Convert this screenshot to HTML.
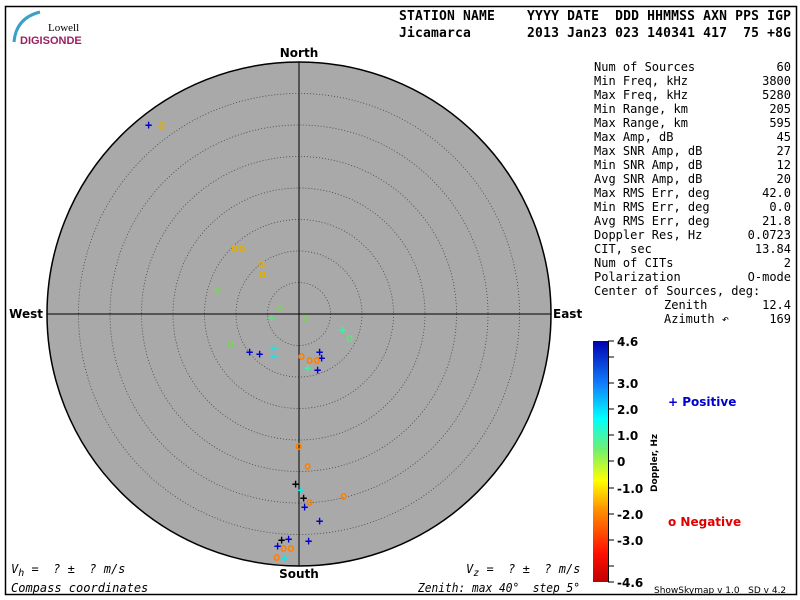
<!DOCTYPE html>
<html><head><meta charset="utf-8"><style>
body{margin:0;background:#fff;width:800px;height:600px;overflow:hidden}
svg{display:block}
text{font-family:"DejaVu Sans Mono","Liberation Mono",monospace;font-size:12px;fill:#000;white-space:pre}
.b{font-family:"DejaVu Sans","Liberation Sans",sans-serif;font-weight:bold;font-size:12px}
.i{font-style:italic}
</style></head><body>
<svg width="800" height="600" viewBox="0 0 800 600" xml:space="preserve">
<defs>
<linearGradient id="cb" x1="0" y1="1" x2="0" y2="0">
<stop offset="0" stop-color="#c00000"/><stop offset="0.12" stop-color="#ff1000"/>
<stop offset="0.3" stop-color="#ff9000"/><stop offset="0.42" stop-color="#ffff00"/>
<stop offset="0.55" stop-color="#70f070"/><stop offset="0.68" stop-color="#00ffff"/>
<stop offset="0.82" stop-color="#1080ff"/><stop offset="1" stop-color="#0000b0"/>
</linearGradient>
</defs>
<rect x="5.5" y="6.5" width="791" height="588" fill="none" stroke="#000" stroke-width="1.5"/>
<path d="M14 42 Q16 18 40 12" fill="none" stroke="#3aa0c8" stroke-width="3"/>
<text x="48" y="31" style="font-family:'Liberation Serif',serif;font-size:11px">Lowell</text>
<text x="20" y="44" style="font-family:'Liberation Sans',sans-serif;font-size:11px;font-weight:bold;fill:#9a2060">DIGISONDE</text>
<text x="399" y="20" style="font-size:13px;font-weight:bold" textLength="392" lengthAdjust="spacing">STATION NAME    YYYY DATE  DDD HHMMSS AXN PPS IGP</text>
<text x="399" y="37" style="font-size:13px;font-weight:bold" textLength="392" lengthAdjust="spacing">Jicamarca       2013 Jan23 023 140341 417  75 +8G</text>
<circle cx="299" cy="314" r="252" fill="#a9a9a9" stroke="#000" stroke-width="1.5"/>
<g fill="none" stroke="#444" stroke-dasharray="1,2" stroke-width="0.8">
<circle cx="299" cy="314" r="31.5"/><circle cx="299" cy="314" r="63"/><circle cx="299" cy="314" r="94.5"/><circle cx="299" cy="314" r="126"/><circle cx="299" cy="314" r="157.5"/><circle cx="299" cy="314" r="189"/><circle cx="299" cy="314" r="220.5"/>
</g>
<line x1="299" y1="62" x2="299" y2="566" stroke="#000"/>
<line x1="47" y1="314" x2="551" y2="314" stroke="#000"/>
<text class="b" x="299" y="57" text-anchor="middle">North</text>
<text class="b" x="299" y="578" text-anchor="middle">South</text>
<text class="b" x="43" y="318" text-anchor="end">West</text>
<text class="b" x="553" y="318">East</text>
<g style="font-family:'DejaVu Sans',sans-serif;font-size:10px;font-weight:bold">
<text x="145" y="129" style="fill:#0000d0">+</text>
<text x="158" y="129" style="fill:#e0b000">o</text>
<text x="231" y="252" style="fill:#e0b000">oo</text>
<text x="258" y="268" style="fill:#e0b000">o</text>
<text x="259" y="278" style="fill:#e0b000">o</text>
<text x="214" y="294" style="fill:#80d060">o</text>
<text x="276" y="312" style="fill:#80d060">o</text>
<text x="268" y="322" style="fill:#60e080">+</text>
<text x="302" y="322" style="fill:#80d060">o</text>
<text x="339" y="334" style="fill:#40f0a0">+</text>
<text x="346" y="342" style="fill:#60e080">o</text>
<text x="227" y="348" style="fill:#80d060">o</text>
<text x="246" y="356" style="fill:#0000d0">+</text>
<text x="256" y="358" style="fill:#0000d0">+</text>
<text x="270" y="352" style="fill:#20e0e0">+</text>
<text x="270" y="360" style="fill:#20e0e0">+</text>
<text x="316" y="356" style="fill:#0000d0">+</text>
<text x="318" y="362" style="fill:#0000d0">+</text>
<text x="298" y="360" style="fill:#ff8000">o</text>
<text x="306" y="364" style="fill:#ff8000">oo</text>
<text x="304" y="372" style="fill:#40f0a0">+</text>
<text x="314" y="374" style="fill:#0000d0">+</text>
<text x="295" y="450" style="fill:#ff8000">o</text>
<text x="304" y="470" style="fill:#ff8000">o</text>
<text x="292" y="488" style="fill:#000">+</text>
<text x="297" y="494" style="fill:#20e0e0">+</text>
<text x="300" y="502" style="fill:#000">+</text>
<text x="306" y="506" style="fill:#ff8000">o</text>
<text x="340" y="500" style="fill:#ff8000">o</text>
<text x="301" y="511" style="fill:#0000d0">+</text>
<text x="316" y="525" style="fill:#0000d0">+</text>
<text x="305" y="545" style="fill:#0000d0">+</text>
<text x="278" y="544" style="fill:#000">+</text>
<text x="285" y="543" style="fill:#0000d0">+</text>
<text x="274" y="550" style="fill:#0000d0">+</text>
<text x="280" y="552" style="fill:#ff8000">oo</text>
<text x="273" y="561" style="fill:#ff8000">o</text>
<text x="281" y="562" style="fill:#20e0e0">+</text>
</g>
<g style="font-size:12px">
<text x="594" y="71">Num of Sources</text><text x="791" y="71" text-anchor="end">60</text>
<text x="594" y="85">Min Freq, kHz</text><text x="791" y="85" text-anchor="end">3800</text>
<text x="594" y="99">Max Freq, kHz</text><text x="791" y="99" text-anchor="end">5280</text>
<text x="594" y="113">Min Range, km</text><text x="791" y="113" text-anchor="end">205</text>
<text x="594" y="127">Max Range, km</text><text x="791" y="127" text-anchor="end">595</text>
<text x="594" y="141">Max Amp, dB</text><text x="791" y="141" text-anchor="end">45</text>
<text x="594" y="155">Max SNR Amp, dB</text><text x="791" y="155" text-anchor="end">27</text>
<text x="594" y="169">Min SNR Amp, dB</text><text x="791" y="169" text-anchor="end">12</text>
<text x="594" y="183">Avg SNR Amp, dB</text><text x="791" y="183" text-anchor="end">20</text>
<text x="594" y="197">Max RMS Err, deg</text><text x="791" y="197" text-anchor="end">42.0</text>
<text x="594" y="211">Min RMS Err, deg</text><text x="791" y="211" text-anchor="end">0.0</text>
<text x="594" y="225">Avg RMS Err, deg</text><text x="791" y="225" text-anchor="end">21.8</text>
<text x="594" y="239">Doppler Res, Hz</text><text x="791" y="239" text-anchor="end">0.0723</text>
<text x="594" y="253">CIT, sec</text><text x="791" y="253" text-anchor="end">13.84</text>
<text x="594" y="267">Num of CITs</text><text x="791" y="267" text-anchor="end">2</text>
<text x="594" y="281">Polarization</text><text x="791" y="281" text-anchor="end">O-mode</text>
<text x="594" y="295">Center of Sources, deg:</text>
<text x="664" y="309">Zenith</text><text x="791" y="309" text-anchor="end">12.4</text>
<text x="664" y="323">Azimuth ↶</text><text x="791" y="323" text-anchor="end">169</text>
</g>
<rect x="593" y="341" width="15" height="241" fill="url(#cb)"/>
<line x1="608.5" y1="341" x2="608.5" y2="582" stroke="#000"/>
<g stroke="#000">
<line x1="608" y1="341" x2="614" y2="341"/><line x1="608" y1="357" x2="614" y2="357"/><line x1="608" y1="383" x2="614" y2="383"/><line x1="608" y1="409" x2="614" y2="409"/><line x1="608" y1="435" x2="614" y2="435"/><line x1="608" y1="461" x2="614" y2="461"/><line x1="608" y1="488" x2="614" y2="488"/><line x1="608" y1="514" x2="614" y2="514"/><line x1="608" y1="540" x2="614" y2="540"/><line x1="608" y1="566" x2="614" y2="566"/><line x1="608" y1="582" x2="614" y2="582"/>
</g>
<g>
<text class="b" x="617" y="346">4.6</text><text class="b" x="617" y="388">3.0</text><text class="b" x="617" y="414">2.0</text><text class="b" x="617" y="440">1.0</text><text class="b" x="617" y="466">0</text><text class="b" x="617" y="493">-1.0</text><text class="b" x="617" y="519">-2.0</text><text class="b" x="617" y="545">-3.0</text><text class="b" x="617" y="587">-4.6</text>
</g>
<text class="b" transform="translate(657,492) rotate(-90)" style="font-size:9px">Doppler, Hz</text>
<text class="b" x="668" y="406" style="fill:#0000d0">+ Positive</text>
<text class="b" x="668" y="526" style="fill:#e00000">o Negative</text>
<text class="i" x="11" y="573">V<tspan dy="3" style="font-size:10px">h</tspan><tspan dy="-3"> =  ? ±  ? m/s</tspan></text>
<text class="i" x="466" y="573">V<tspan dy="3" style="font-size:10px">z</tspan><tspan dy="-3"> =  ? ±  ? m/s</tspan></text>
<text class="i" x="11" y="592">Compass coordinates</text>
<text class="i" x="418" y="592" textLength="162" lengthAdjust="spacingAndGlyphs">Zenith: max 40°  step 5°</text>
<text x="654" y="593" style="font-family:'DejaVu Sans',sans-serif;font-size:9px">ShowSkymap v 1.0   SD v 4.2</text>
</svg>
</body></html>
